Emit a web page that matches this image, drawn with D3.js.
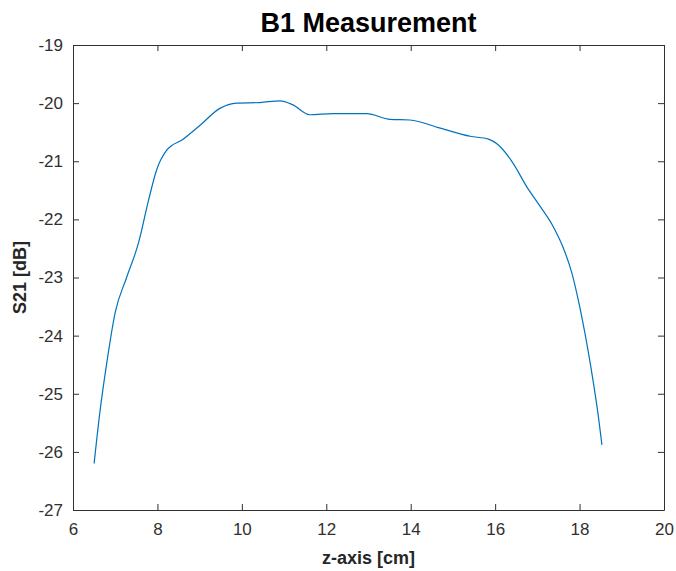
<!DOCTYPE html>
<html>
<head>
<meta charset="utf-8">
<script src="https://cdn.jsdelivr.net/npm/d3@7.9.0/dist/d3.min.js"></script>
<style>
  body { margin: 0; background: #fff; }
  svg { display: block; font-family: "Liberation Sans", Arial, sans-serif; }
  .tick text { fill: #303030; font-size: 17px; }
  .tick line { stroke: #303030; }
  .domain { stroke: #303030; }
</style>
</head>
<body>
<svg id="chart" width="676" height="571"></svg>
<script>
// position along the z-axis [cm]
const zPos = [6.50, 6.64, 6.80, 7.00, 7.27, 7.55, 7.79, 7.98, 8.22, 8.61,
  9.01, 9.48, 9.88, 10.43, 10.90, 11.21, 11.61, 12.16, 12.96, 13.51,
  13.98, 14.70, 15.41, 15.84, 16.12, 16.43, 16.75, 17.07, 17.38, 17.62,
  17.82, 17.97, 18.17, 18.33, 18.44, 18.53];
// measured S21 [dB]
const s21 = [-26.20, -25.30, -24.47, -23.60, -23.00, -22.41, -21.67, -21.15, -20.81, -20.62,
  -20.38, -20.09, -20.00, -19.99, -19.96, -20.03, -20.20, -20.18, -20.18, -20.28,
  -20.29, -20.43, -20.57, -20.62, -20.75, -21.04, -21.44, -21.78, -22.13, -22.50,
  -22.93, -23.39, -24.13, -24.82, -25.36, -25.88];

const xTicks = [6, 8, 10, 12, 14, 16, 18, 20];
const yTicks = [-27, -26, -25, -24, -23, -22, -21, -20, -19];

const margin = { top: 45, right: 12, bottom: 61, left: 73 };
const width = 676 - margin.left - margin.right;
const height = 571 - margin.top - margin.bottom;

const svg = d3.select("#chart");
const g = svg.append("g").attr("transform", `translate(${margin.left},${margin.top})`);

const x = d3.scaleLinear().domain([6, 20]).range([0, width]);
const y = d3.scaleLinear().domain([-27, -19]).range([height, 0]);

// plain hyphen minus like the matlab figure
const fmt = d => String(d);

// bottom + top axes (ticks point inward, like matlab)
g.append("g")
  .attr("transform", `translate(0,${height})`)
  .call(d3.axisBottom(x).tickValues(xTicks).tickSizeInner(-6).tickSizeOuter(0).tickPadding(15).tickFormat(fmt))
  .call(a => a.selectAll("text").attr("dy", "0.6em"));
g.append("g")
  .call(d3.axisTop(x).tickValues(xTicks).tickSizeInner(-6).tickSizeOuter(0).tickFormat(""));

// left + right axes
g.append("g")
  .call(d3.axisLeft(y).tickValues(yTicks).tickSizeInner(-6).tickSizeOuter(0).tickPadding(10).tickFormat(fmt));
g.append("g")
  .attr("transform", `translate(${width},0)`)
  .call(d3.axisRight(y).tickValues(yTicks).tickSizeInner(-6).tickSizeOuter(0).tickFormat(""));

const pts = zPos.map((z, i) => [z, s21[i]]);
const line = d3.line()
  .x(d => x(d[0]))
  .y(d => y(d[1]))
  .curve(d3.curveMonotoneX);

g.append("path")
  .datum(pts)
  .attr("fill", "none")
  .attr("stroke", "#0072BD")
  .attr("stroke-width", 1.2)
  .attr("d", line);

// title and axis labels
svg.append("text")
  .attr("x", margin.left + width / 2)
  .attr("y", 32)
  .attr("text-anchor", "middle")
  .attr("font-size", 27)
  .attr("font-weight", "bold")
  .attr("fill", "#000")
  .text("B1 Measurement");

svg.append("text")
  .attr("x", margin.left + width / 2)
  .attr("y", 564)
  .attr("text-anchor", "middle")
  .attr("font-size", 18)
  .attr("font-weight", "bold")
  .attr("fill", "#262626")
  .text("z-axis [cm]");

svg.append("text")
  .attr("transform", `translate(26,${margin.top + height / 2}) rotate(-90)`)
  .attr("text-anchor", "middle")
  .attr("font-size", 18)
  .attr("font-weight", "bold")
  .attr("fill", "#262626")
  .text("S21 [dB]");
</script>
</body>
</html>
